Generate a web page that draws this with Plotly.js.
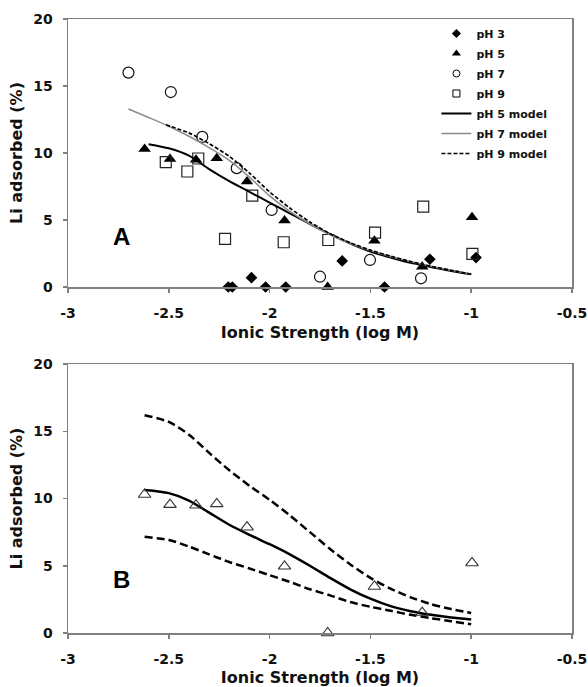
<!DOCTYPE html>
<html>
<head>
<meta charset="utf-8">
<script src="https://cdn.plot.ly/plotly-3.0.1.min.js"></script>
<style>html,body{margin:0;padding:0;background:#fff;}#chart{width:588px;height:687px;}</style>
</head>
<body>
<div id="chart"></div>
<script>
// Panel A data
const ph3X = [-2.205, -2.185, -2.09, -2.02, -1.92, -1.64, -1.43, -1.205, -0.976];
const ph3Y = [0, 0, 0.7, 0, 0, 1.95, 0, 2.07, 2.2];
const ph5X = [-2.62, -2.494, -2.365, -2.262, -2.112, -1.926, -1.712, -1.48, -1.243, -0.996];
const ph5Y = [10.3, 9.55, 9.5, 9.6, 7.87, 4.96, 0, 3.46, 1.52, 5.21];
const ph7X = [-2.70, -2.49, -2.334, -2.163, -1.99, -1.75, -1.502, -1.249];
const ph7Y = [16.0, 14.55, 11.2, 8.87, 5.75, 0.77, 2.02, 0.65];
const ph9X = [-2.515, -2.408, -2.354, -2.221, -2.086, -1.93, -1.709, -1.477, -1.238, -0.994];
const ph9Y = [9.32, 8.62, 9.59, 3.59, 6.82, 3.34, 3.51, 4.06, 6.0, 2.47];
const m5X = [-2.6, -2.5, -2.4, -2.3, -2.2, -2.1, -2.0, -1.9, -1.8, -1.7, -1.6, -1.5, -1.4, -1.3, -1.2, -1.1, -1.0];
const m5Y = [10.66, 10.35, 9.8, 8.8, 7.9, 7.1, 6.3, 5.5, 4.7, 3.95, 3.25, 2.65, 2.2, 1.8, 1.5, 1.2, 0.95];
const m7X = [-2.7, -2.6, -2.5, -2.4, -2.3, -2.2, -2.1, -2.0, -1.9, -1.8, -1.7, -1.6, -1.5, -1.4, -1.3, -1.2, -1.1, -1.0];
const m7Y = [13.28, 12.65, 12.0, 11.25, 10.4, 9.45, 8.2, 6.8, 5.65, 4.7, 3.9, 3.25, 2.72, 2.28, 1.9, 1.55, 1.25, 0.97];
const m9X = [-2.514, -2.4, -2.3, -2.2, -2.1, -2.0, -1.9, -1.8, -1.7, -1.6, -1.5, -1.4, -1.3, -1.2, -1.1, -1.0];
const m9Y = [12.1, 11.5, 10.7, 9.75, 8.5, 7.1, 5.9, 4.85, 3.98, 3.3, 2.75, 2.3, 1.9, 1.55, 1.25, 0.95];
// Panel B data
const bX = [-2.62, -2.494, -2.365, -2.262, -2.112, -1.926, -1.712, -1.48, -1.243, -0.996];
const bY = [10.3, 9.55, 9.5, 9.6, 7.87, 4.96, 0, 3.46, 1.52, 5.21];
const bLineX = [-2.62, -2.5, -2.4, -2.3, -2.2, -2.1, -2.0, -1.9, -1.8, -1.7, -1.6, -1.5, -1.4, -1.3, -1.2, -1.1, -1.0];
const bUpY = [16.2, 15.7, 14.75, 13.4, 12.1, 10.95, 9.9, 8.75, 7.5, 6.25, 5.1, 4.1, 3.3, 2.65, 2.15, 1.78, 1.48];
const bMidY = [10.63, 10.4, 9.85, 8.95, 8.05, 7.3, 6.6, 5.85, 5.0, 4.1, 3.25, 2.55, 2.0, 1.62, 1.35, 1.15, 1.0];
const bLoY = [7.15, 6.92, 6.43, 5.85, 5.28, 4.8, 4.3, 3.8, 3.25, 2.8, 2.3, 1.95, 1.65, 1.35, 1.1, 0.88, 0.65];
const xTicks = [-3, -2.5, -2, -1.5, -1, -0.5];
const yTicks = [0, 5, 10, 15, 20];
const legendNames = ['pH 3', 'pH 5', 'pH 7', 'pH 9', 'pH 5 model', 'pH 7 model', 'pH 9 model'];

const F = "DejaVu Sans, Verdana, sans-serif";
const sm = {shape: 'spline', smoothing: 0.7};
const traces = [
  {x: ph3X, y: ph3Y, mode: 'markers', type: 'scatter', cliponaxis: false, showlegend: false,
   marker: {symbol: 'diamond', size: 9, color: '#000'}},
  {x: ph5X, y: ph5Y, mode: 'markers', type: 'scatter', cliponaxis: false, showlegend: false,
   marker: {symbol: 'triangle-up', size: 11, color: '#000'}},
  {x: ph7X, y: ph7Y, mode: 'markers', type: 'scatter', cliponaxis: false, showlegend: false,
   marker: {symbol: 'circle-open', size: 11, color: '#111', line: {width: 1.2}}},
  {x: ph9X, y: ph9Y, mode: 'markers', type: 'scatter', cliponaxis: false, showlegend: false,
   marker: {symbol: 'square-open', size: 11, color: '#222', line: {width: 1.2}}},
  {x: m5X, y: m5Y, mode: 'lines', type: 'scatter', showlegend: false, line: Object.assign({color: '#000', width: 2}, sm)},
  {x: m7X, y: m7Y, mode: 'lines', type: 'scatter', showlegend: false, line: Object.assign({color: '#8c8c8c', width: 1.6}, sm)},
  {x: m9X, y: m9Y, mode: 'lines', type: 'scatter', showlegend: false, line: Object.assign({color: '#000', width: 1.7, dash: '4px,2px'}, sm)},
  // legend-only entries (no data) with small symbols, as in the original legend
  {x: [null], y: [null], name: legendNames[0], legendgroup: 'g0', mode: 'markers', type: 'scatter', marker: {symbol: 'diamond', size: 7, color: '#000'}},
  {x: [null], y: [null], name: legendNames[1], legendgroup: 'g1', mode: 'markers', type: 'scatter', marker: {symbol: 'triangle-up', size: 8, color: '#000'}},
  {x: [null], y: [null], name: legendNames[2], legendgroup: 'g2', mode: 'markers', type: 'scatter', marker: {symbol: 'circle-open', size: 7, color: '#000', line: {width: 1}}},
  {x: [null], y: [null], name: legendNames[3], legendgroup: 'g3', mode: 'markers', type: 'scatter', marker: {symbol: 'square-open', size: 7, color: '#000', line: {width: 1}}},
  {x: [null], y: [null], name: legendNames[4], legendgroup: 'g4', mode: 'lines', type: 'scatter', line: {color: '#000', width: 2}},
  {x: [null], y: [null], name: legendNames[5], legendgroup: 'g5', mode: 'lines', type: 'scatter', line: {color: '#8c8c8c', width: 1.6}},
  {x: [null], y: [null], name: legendNames[6], legendgroup: 'g6', mode: 'lines', type: 'scatter', line: {color: '#000', width: 1.7, dash: '4px,2px'}},
  // Panel B
  {x: bLineX, y: bUpY, xaxis: 'x2', yaxis: 'y2', mode: 'lines', type: 'scatter', showlegend: false,
   line: Object.assign({color: '#000', width: 2.5, dash: '8px,4px'}, sm)},
  {x: bLineX, y: bMidY, xaxis: 'x2', yaxis: 'y2', mode: 'lines', type: 'scatter', showlegend: false,
   line: Object.assign({color: '#000', width: 2.5}, sm)},
  {x: bLineX, y: bLoY, xaxis: 'x2', yaxis: 'y2', mode: 'lines', type: 'scatter', showlegend: false,
   line: Object.assign({color: '#000', width: 2.5, dash: '8px,4px'}, sm)},
  {x: bX, y: bY, xaxis: 'x2', yaxis: 'y2', mode: 'markers', type: 'scatter', showlegend: false, cliponaxis: false,
   marker: {symbol: 'triangle-up-open', size: 11, color: '#333', line: {width: 1.1}}}
];

const axBase = {
  showline: true, linecolor: '#808080', linewidth: 1.5, mirror: true, showgrid: false, zeroline: false,
  ticks: 'outside', ticklen: 4, tickcolor: '#808080', tickwidth: 1.5,
  tickfont: {family: F, size: 14, color: '#111'}
};
const b = s => '<b>' + s + '</b>';
const xa = Object.assign({}, axBase, {range: [-3, -0.5], tickvals: xTicks, ticktext: xTicks.map(v => b(String(v))),
  ticklabelstandoff: 9,
  title: {text: b('Ionic Strength (log M)'), font: {family: F, size: 16, color: '#111'}, standoff: 6}});
const ya = Object.assign({}, axBase, {range: [0, 20], tickvals: yTicks, ticktext: yTicks.map(v => b(String(v))),
  ticklabelstandoff: 7,
  title: {text: b('Li adsorbed (%)'), font: {family: F, size: 16, color: '#111'}, standoff: 6}});

const layout = {
  width: 588, height: 687,
  margin: {l: 68, r: 16, t: 19, b: 54},
  paper_bgcolor: '#fff', plot_bgcolor: '#fff',
  showlegend: true,
  legend: {x: 0.731, y: 1.0, xanchor: 'left', yanchor: 'top', bgcolor: 'rgba(0,0,0,0)',
    traceorder: 'grouped', tracegroupgap: 1,
    font: {family: F, size: 11, color: '#111', weight: 700}, itemwidth: 30},
  xaxis: Object.assign({}, xa, {anchor: 'y', domain: [0, 1]}),
  yaxis: Object.assign({}, ya, {anchor: 'x', domain: [0.5635, 1]}),
  xaxis2: Object.assign({}, xa, {anchor: 'y2', domain: [0, 1]}),
  yaxis2: Object.assign({}, ya, {anchor: 'x2', domain: [0, 0.438]}),
  annotations: [
    {text: '<b>A</b>', x: -2.785, y: 3.76, xref: 'x', yref: 'y', showarrow: false, xanchor: 'left', yanchor: 'middle',
     font: {family: 'Liberation Sans, Arial, sans-serif', size: 24, color: '#000'}},
    {text: '<b>B</b>', x: -2.785, y: 4.0, xref: 'x2', yref: 'y2', showarrow: false, xanchor: 'left', yanchor: 'middle',
     font: {family: 'Liberation Sans, Arial, sans-serif', size: 24, color: '#000'}}
  ]
};
Plotly.newPlot('chart', traces, layout, {displayModeBar: false, staticPlot: true});
</script>
</body>
</html>
